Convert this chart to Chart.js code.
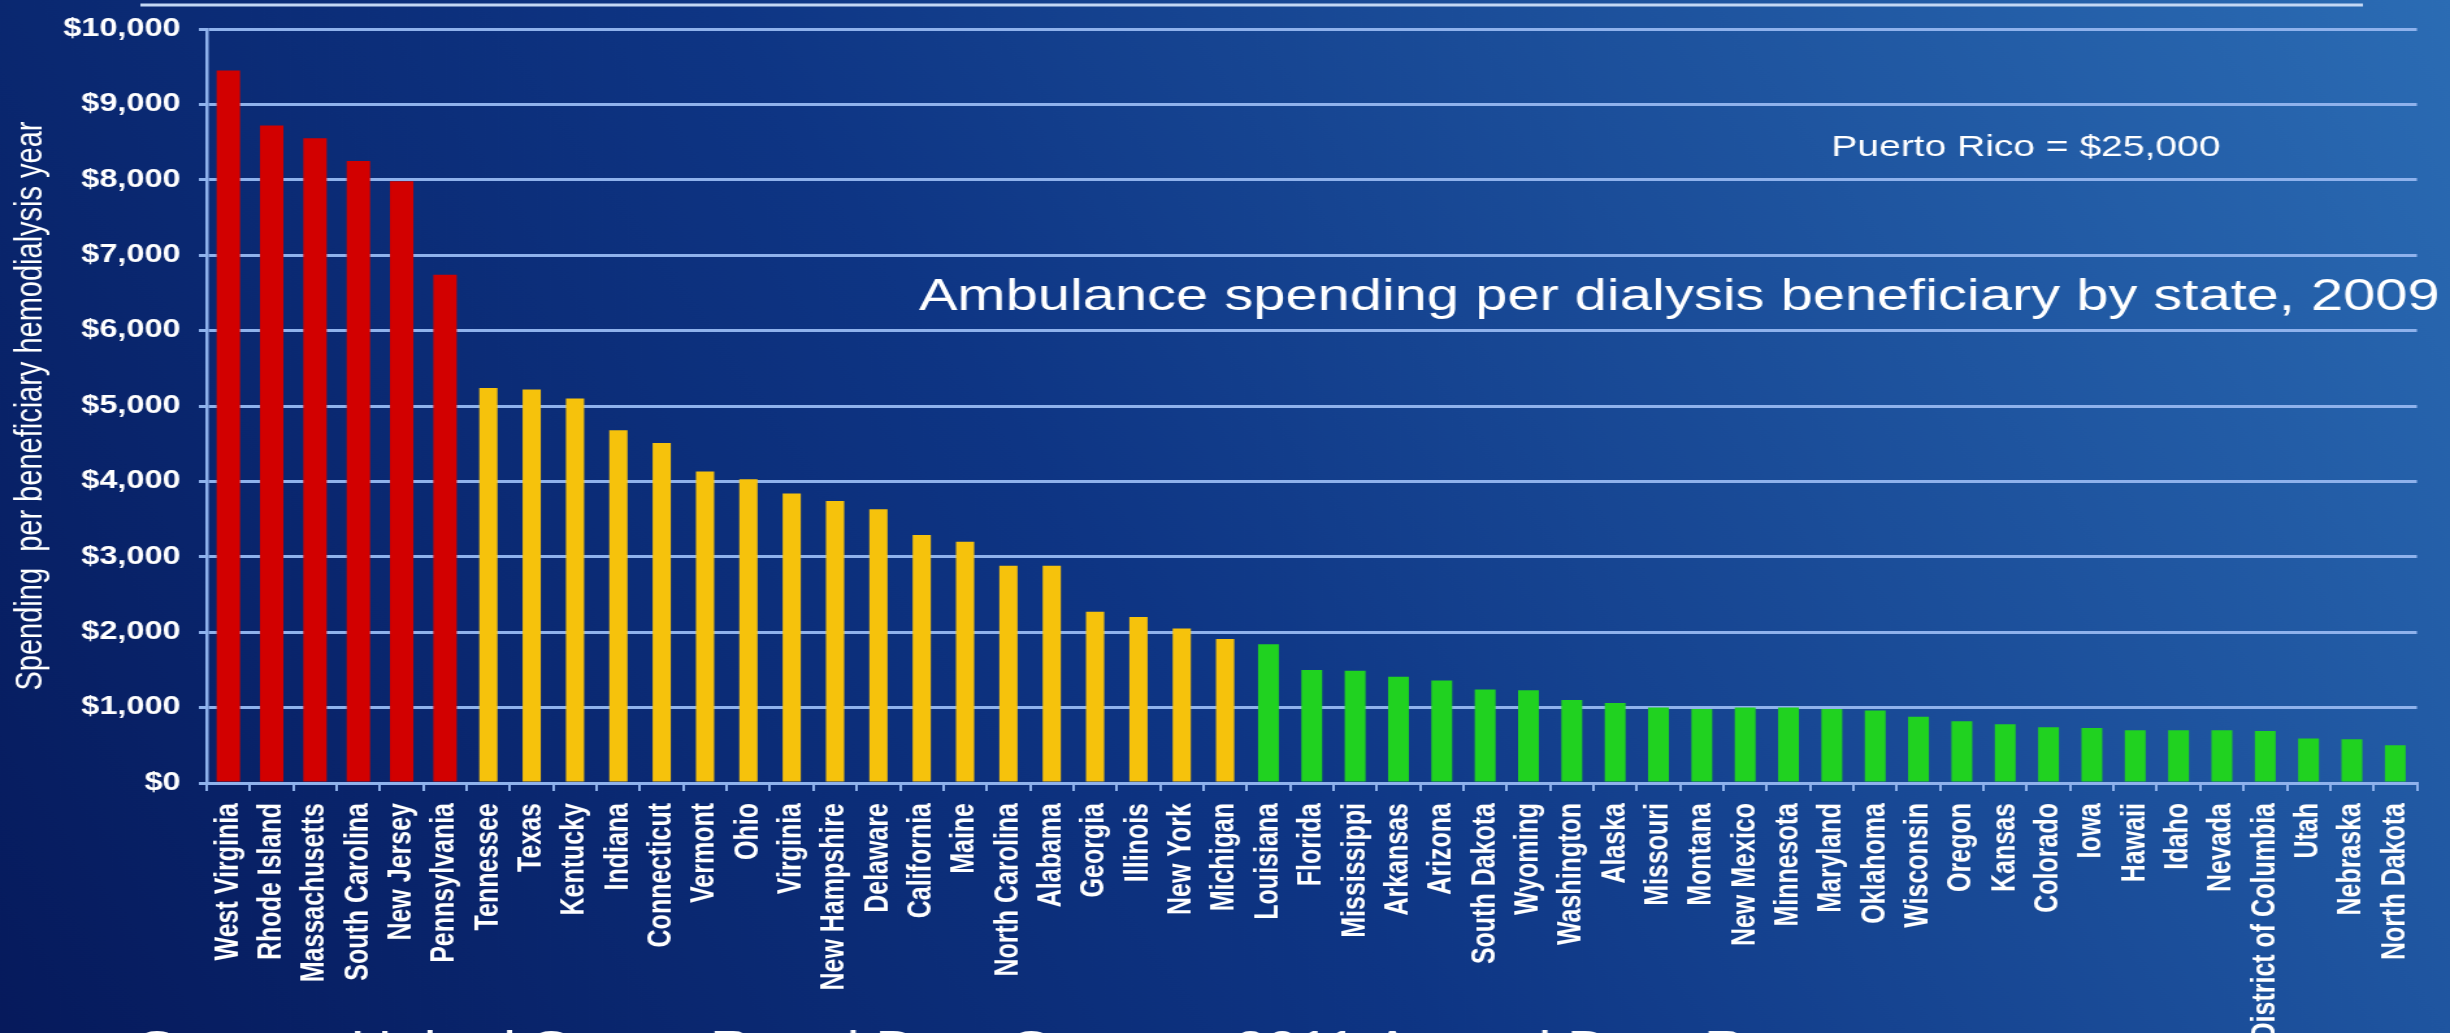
<!DOCTYPE html>
<html>
<head>
<meta charset="utf-8">
<title>Ambulance spending per dialysis beneficiary by state, 2009</title>
<script src="https://cdn.jsdelivr.net/npm/chart.js@4.4.1/dist/chart.umd.min.js"></script>
<style>
  html, body { margin: 0; padding: 0; background: #0b2a78; overflow: hidden; }
  #spendingChart { display: block; }
</style>
</head>
<body>
<!-- the source slide is shown stretched sideways, so the canvas is drawn narrow and widened by its style -->
<canvas id="spendingChart" width="1885" height="1033" style="width: 2450px; height: 1033px;"></canvas>
<script>
// States, sorted as in the slide
const states = [
  'West Virginia', 'Rhode Island', 'Massachusetts', 'South Carolina', 'New Jersey', 'Pennsylvania',
  'Tennessee', 'Texas', 'Kentucky', 'Indiana', 'Connecticut', 'Vermont', 'Ohio', 'Virginia',
  'New Hampshire', 'Delaware', 'California', 'Maine', 'North Carolina', 'Alabama', 'Georgia',
  'Illinois', 'New York', 'Michigan',
  'Louisiana', 'Florida', 'Mississippi', 'Arkansas', 'Arizona', 'South Dakota', 'Wyoming',
  'Washington', 'Alaska', 'Missouri', 'Montana', 'New Mexico', 'Minnesota', 'Maryland',
  'Oklahoma', 'Wisconsin', 'Oregon', 'Kansas', 'Colorado', 'Iowa', 'Hawaii', 'Idaho', 'Nevada',
  'District of Columbia', 'Utah', 'Nebraska', 'North Dakota'
];

// Spending per beneficiary hemodialysis year ($)
const spending = [
  9450, 8720, 8550, 8250, 7980, 6740,
  5240, 5220, 5100, 4680, 4510, 4130, 4030, 3840, 3740, 3630, 3290, 3200, 2880, 2880, 2270,
  2200, 2050, 1910,
  1840, 1500, 1490, 1410, 1360, 1240, 1230, 1100, 1060, 1000, 980, 1000, 1000, 980, 960, 880,
  820, 780, 740, 730, 700, 700, 700, 690, 590, 580, 500
];

// Colour group of every state: R = highest, Y = middle, G = lowest
const tier = [
  'R', 'R', 'R', 'R', 'R', 'R',
  'Y', 'Y', 'Y', 'Y', 'Y', 'Y', 'Y', 'Y', 'Y', 'Y', 'Y', 'Y', 'Y', 'Y', 'Y', 'Y', 'Y', 'Y',
  'G', 'G', 'G', 'G', 'G', 'G', 'G', 'G', 'G', 'G', 'G', 'G', 'G', 'G', 'G', 'G', 'G', 'G',
  'G', 'G', 'G', 'G', 'G', 'G', 'G', 'G', 'G'
];

const yMax = 10000;
const yStep = 1000;

const titleText = 'Ambulance spending per dialysis beneficiary by state, 2009';
const noteText = 'Puerto Rico = $25,000';
const sourceText = 'Source: United States Renal Data System, 2011 Annual Data Report';

const tierColor = { R: '#d20000', Y: '#f6c20c', G: '#20d220' };
const tierBarWidth = { R: 0.54, Y: 0.42, G: 0.48 };
const gridColor = '#8fb2ec';
const FONT = "'Liberation Sans', Arial, sans-serif";

// one dataset per colour group, each bar sits on its own category
function tierSeries(code) {
  return spending.map((v, i) => (tier[i] === code ? v : null));
}

const datasets = ['R', 'Y', 'G'].map(code => ({
  label: code,
  data: tierSeries(code),
  backgroundColor: tierColor[code],
  borderWidth: 0,
  barPercentage: tierBarWidth[code],
  categoryPercentage: 1,
  grouped: false
}));

// slide background and the text placed over the plot
const slideDecor = {
  id: 'slideDecor',
  beforeDraw(chart) {
    const ctx = chart.ctx;
    const w = chart.width, h = chart.height;
    const g = ctx.createLinearGradient(0, h, w, 0);
    g.addColorStop(0, '#061a5c');
    g.addColorStop(0.45, '#0e3584');
    g.addColorStop(1, '#2b6cb4');
    ctx.save();
    ctx.fillStyle = g;
    ctx.fillRect(0, 0, w, h);
    // rule left over from the slide heading
    ctx.strokeStyle = '#c4d8f4';
    ctx.lineWidth = 3;
    ctx.beginPath();
    ctx.moveTo(108, 5);
    ctx.lineTo(1818, 5);
    ctx.stroke();
    ctx.restore();
  },
  afterDraw(chart) {
    const ctx = chart.ctx;
    ctx.save();
    ctx.fillStyle = '#ffffff';
    ctx.textBaseline = 'alphabetic';

    ctx.font = '44.5px ' + FONT;
    ctx.textAlign = 'right';
    ctx.fillText(titleText, 1877, 310);

    ctx.font = '30px ' + FONT;
    ctx.textAlign = 'left';
    ctx.fillText(noteText, 1409, 156);

    // source line, cut off by the bottom edge as in the slide
    ctx.font = '44px ' + FONT;
    ctx.fillText(sourceText, 106, 1062);
    ctx.restore();
  }
};

const chart = new Chart(document.getElementById('spendingChart'), {
  type: 'bar',
  data: { labels: states, datasets: datasets },
  options: {
    responsive: false,
    animation: false,
    layout: { padding: { left: 0, right: 14, top: 26, bottom: 0 } },
    plugins: {
      legend: { display: false },
      tooltip: { enabled: false },
      title: { display: false }
    },
    scales: {
      x: {
        grid: {
          drawOnChartArea: false,
          drawTicks: true,
          tickLength: 8,
          color: gridColor,
          lineWidth: 2
        },
        border: { display: true, color: gridColor, width: 3 },
        ticks: {
          autoSkip: false,
          minRotation: 90,
          maxRotation: 90,
          padding: 12,
          color: '#ffffff',
          font: { family: FONT, size: 25, weight: 'bold' }
        },
        afterFit(scale) { scale.height = 250; }
      },
      y: {
        min: 0,
        max: yMax,
        grid: {
          color: gridColor,
          lineWidth: 3,
          drawTicks: true,
          tickLength: 6
        },
        border: { display: true, color: gridColor, width: 2.5 },
        ticks: {
          stepSize: yStep,
          padding: 14,
          color: '#ffffff',
          font: { family: FONT, size: 25, weight: 'bold' },
          callback: v => '$' + v.toLocaleString('en-US')
        },
        title: {
          display: true,
          text: 'Spending  per beneficiary hemodialysis year',
          color: '#ffffff',
          font: { family: FONT, size: 29 },
          padding: { top: 7, bottom: 0 }
        },
        afterFit(scale) { scale.width = 159; }
      }
    }
  },
  plugins: [slideDecor]
});
</script>
</body>
</html>
